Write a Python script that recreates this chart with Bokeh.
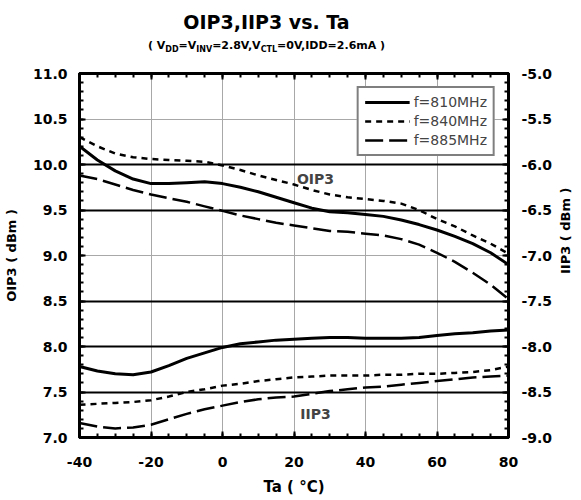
import math
from bokeh.core.properties import value
from bokeh.embed import file_html
from bokeh.layouts import column, row
from bokeh.resources import INLINE
from bokeh.plotting import figure
from bokeh.models import (Range1d, LinearAxis, FixedTicker, PrintfTickFormatter,
                          CustomJSTickFormatter, Grid, Label, Div)

# temperature (deg C)
ta = [-40, -35, -30, -25, -20, -15, -10, -5, 0, 5, 10, 15, 20,
      25, 30, 35, 40, 45, 50, 55, 60, 65, 70, 75, 80]

# OIP3 (dBm), left axis
oip3_810 = [10.20, 10.05, 9.93, 9.84, 9.79, 9.79, 9.80, 9.81, 9.79, 9.75, 9.70, 9.64, 9.58,
            9.52, 9.48, 9.47, 9.45, 9.43, 9.39, 9.34, 9.28, 9.21, 9.13, 9.03, 8.90]
oip3_840 = [10.30, 10.20, 10.12, 10.08, 10.06, 10.05, 10.04, 10.03, 9.99, 9.94, 9.88, 9.83, 9.78,
            9.72, 9.67, 9.64, 9.62, 9.60, 9.57, 9.50, 9.40, 9.32, 9.22, 9.13, 9.02]
oip3_885 = [9.88, 9.84, 9.78, 9.72, 9.67, 9.63, 9.59, 9.54, 9.49, 9.44, 9.40, 9.36, 9.33,
            9.30, 9.27, 9.26, 9.24, 9.22, 9.18, 9.12, 9.03, 8.93, 8.81, 8.68, 8.52]

# IIP3 (dBm), right axis
iip3_810 = [-8.22, -8.27, -8.30, -8.31, -8.28, -8.21, -8.13, -8.07, -8.01, -7.97, -7.95, -7.93, -7.92,
            -7.91, -7.90, -7.90, -7.91, -7.91, -7.91, -7.90, -7.88, -7.86, -7.85, -7.83, -7.82]
iip3_840 = [-8.64, -8.63, -8.62, -8.61, -8.59, -8.55, -8.50, -8.47, -8.43, -8.41, -8.38, -8.36, -8.34,
            -8.33, -8.32, -8.32, -8.32, -8.31, -8.31, -8.30, -8.30, -8.29, -8.28, -8.26, -8.22]
iip3_885 = [-8.84, -8.88, -8.90, -8.89, -8.86, -8.80, -8.74, -8.69, -8.65, -8.61, -8.58, -8.56, -8.55,
            -8.52, -8.49, -8.47, -8.45, -8.44, -8.42, -8.40, -8.38, -8.36, -8.34, -8.33, -8.32]

# ticks and grid levels
x_major = [-40, -20, 0, 20, 40, 60, 80]
x_minor = list(range(-40, 85, 5))
x_grid = [-20, 0, 20, 40, 60]
oip3_major = [7.0, 7.5, 8.0, 8.5, 9.0, 9.5, 10.0, 10.5, 11.0]
oip3_minor = [round(7.0 + 0.1 * i, 1) for i in range(41)]
iip3_major = [-9.0, -8.5, -8.0, -7.5, -7.0, -6.5, -6.0, -5.5, -5.0]
iip3_minor = [round(-9.0 + 0.1 * i, 1) for i in range(41)]
grid_bold = [7.5, 8.0, 8.5, 9.5, 10.0]
grid_thin = [9.0, 10.5]

FONT = "DejaVu Sans"

# ---- title block (html, so the subscripts are real subscripts) ----
sub = '<sub style="font-size:8px;vertical-align:-3px;line-height:0">%s</sub>'
title_html = (
    '<div style="font-family:\'DejaVu Sans\';font-weight:bold;color:black;'
    'text-align:center;width:533px">'
    '<div style="font-size:19px;line-height:22px;padding-top:11px">OIP3,IIP3 vs. Ta</div>'
    '<div style="font-size:11px;line-height:14px;margin-top:6px">'
    '( V' + sub % 'DD' + '=V' + sub % 'INV' + '=2.8V,V' + sub % 'CTL' + '=0V,IDD=2.6mA )'
    '</div></div>'
)
head = Div(text=title_html, width=573, height=63, margin=0)

# ---- main chart ----
p = figure(frame_width=429, frame_height=364,
           x_range=Range1d(-40, 80), y_range=Range1d(7, 11),
           min_border_left=73, min_border_right=49,
           min_border_top=10, min_border_bottom=60,
           output_backend="svg", toolbar_location=None, tools="")
p.extra_y_ranges = {"iip3": Range1d(-9, -5)}
p.outline_line_color = "black"
p.outline_line_width = 3
p.background_fill_color = "white"
p.border_fill_color = "white"


def style_axis(ax, ticks, minor, fmt):
    ax.ticker = FixedTicker(ticks=ticks, minor_ticks=minor)
    ax.formatter = fmt
    ax.axis_line_width = 3
    ax.major_tick_in = 6
    ax.major_tick_out = 0
    ax.minor_tick_in = 4
    ax.minor_tick_out = 0
    ax.major_tick_line_width = 2
    ax.minor_tick_line_width = 2
    ax.major_label_text_font = FONT
    ax.major_label_text_font_style = "bold"
    ax.major_label_text_font_size = "14px"
    ax.major_label_text_color = "black"
    ax.axis_label_text_font = FONT
    ax.axis_label_text_font_style = "bold"
    ax.axis_label_text_font_size = "13px"
    ax.axis_label_text_color = "black"


style_axis(p.xaxis[0], x_major, x_minor, PrintfTickFormatter(format="%d"))
p.xaxis[0].major_label_standoff = 19
p.xaxis[0].axis_label = "Ta ( °C)"
p.xaxis[0].axis_label_text_font_size = "15px"
p.xaxis[0].axis_label_standoff = 8

style_axis(p.yaxis[0], oip3_major, oip3_minor, PrintfTickFormatter(format="%.1f"))
p.yaxis[0].major_label_standoff = 12
p.yaxis[0].axis_label = "OIP3 ( dBm )"
p.yaxis[0].axis_label_standoff = 11

right = LinearAxis(y_range_name="iip3")
style_axis(right, iip3_major, iip3_minor, PrintfTickFormatter(format="%.1f"))
right.major_label_standoff = 13
p.add_layout(right, "right")

top = LinearAxis()
style_axis(top, x_major, x_minor, CustomJSTickFormatter(code="return ''"))
top.major_label_standoff = 0
p.add_layout(top, "above")

# grids: thin grey and heavy black rules
p.xgrid.ticker = FixedTicker(ticks=x_grid)
p.xgrid.grid_line_color = "#a8a8a8"
p.xgrid.grid_line_width = 1
p.ygrid.ticker = FixedTicker(ticks=grid_thin)
p.ygrid.grid_line_color = "#a8a8a8"
p.ygrid.grid_line_width = 1
p.center.append(Grid(dimension=1, ticker=FixedTicker(ticks=grid_bold),
                     grid_line_color="black", grid_line_width=2))

# OIP3 curves
p.line(ta, oip3_810, line_color="black", line_width=3, legend_label="f=810MHz")
p.line(ta, oip3_840, line_color="black", line_width=2.5, line_dash="6 5", legend_label="f=840MHz")
p.line(ta, oip3_885, line_color="black", line_width=2.5, line_dash="18 6", legend_label="f=885MHz")

# IIP3 curves
p.line(ta, iip3_810, line_color="black", line_width=3, y_range_name="iip3")
p.line(ta, iip3_840, line_color="black", line_width=2.5, line_dash="6 5", y_range_name="iip3")
p.line(ta, iip3_885, line_color="black", line_width=2.5, line_dash="18 6", y_range_name="iip3")

lg = p.legend[0]
lg.location = "top_right"
lg.margin = 13
lg.padding = 6
lg.spacing = 3
lg.glyph_width = 45
lg.glyph_height = 16
lg.label_standoff = 4
lg.label_text_font = FONT
lg.label_text_font_size = "14px"
lg.border_line_color = "black"
lg.border_line_width = 2
lg.background_fill_alpha = 1

# curve group tags
p.add_layout(Label(x=26, y=9.84, text="OIP3", text_align="center", text_baseline="middle",
                   text_font=FONT, text_font_style="bold", text_font_size="14px"))
p.add_layout(Label(x=26, y=7.26, text="IIP3", text_align="center", text_baseline="middle",
                   text_font=FONT, text_font_style="bold", text_font_size="14px"))

# ---- right axis title in a thin strip, reading bottom to top ----
rh = 434
r = figure(width=22, height=rh, x_range=Range1d(0, 22), y_range=Range1d(0, rh),
           x_axis_location=None, y_axis_location=None, min_border=0,
           output_backend="svg", toolbar_location=None, tools="")
r.outline_line_color = None
r.grid.visible = False
r.text(x=[8], y=[rh - 188], text=["IIP3 ( dBm )"], angle=math.pi / 2,
       text_align="center", text_baseline="middle", text_font=value(FONT),
       text_font_style="bold", text_font_size="13px", text_color="black")

page = column(head, row(p, r))
open("out.html", "w").write(file_html(page, INLINE))
